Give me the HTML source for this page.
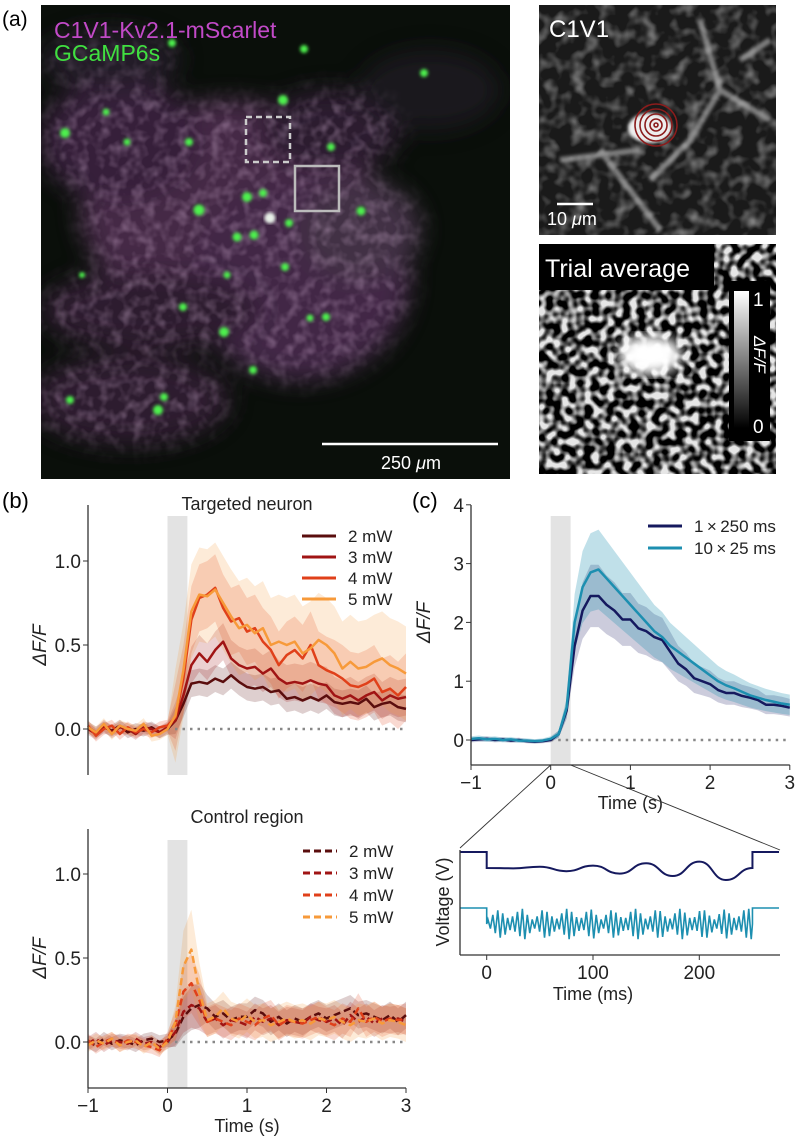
<!DOCTYPE html>
<html><head><meta charset="utf-8"><style>
body{margin:0;background:#fff;width:798px;height:1141px;overflow:hidden}
svg{display:block;font-family:"Liberation Sans",sans-serif}
</style></head><body>
<svg id="fig" width="798" height="1141" viewBox="0 0 798 1141">
<defs>
<filter id="blur6"><feGaussianBlur stdDeviation="12"/></filter>
<filter id="blur2"><feGaussianBlur stdDeviation="1.6"/></filter>
<filter id="blur5"><feGaussianBlur stdDeviation="6"/></filter>
<filter id="tex" x="0" y="0" width="100%" height="100%">
<feTurbulence type="fractalNoise" baseFrequency="0.09" numOctaves="2" seed="9" result="n"/>
<feColorMatrix in="n" type="matrix" values="0 0 0 0 0.85  0 0 0 0 0.6  0 0 0 0 0.85  2.2 0 0 0 -0.9"/>
</filter>
<filter id="texg" x="0" y="0" width="100%" height="100%">
<feTurbulence type="fractalNoise" baseFrequency="0.07" numOctaves="2" seed="5" result="n"/>
<feColorMatrix in="n" type="matrix" values="0 0 0 0 1  0 0 0 0 1  0 0 0 0 1  2.0 0 0 0 -0.9"/>
</filter>
<filter id="pix" x="0" y="0" width="100%" height="100%">
<feTurbulence type="fractalNoise" baseFrequency="0.13" numOctaves="1" seed="3"/>
<feColorMatrix type="matrix" values="0 0 0 0 1  0 0 0 0 1  0 0 0 0 1  4 0 0 0 -1.6"/>
</filter>
<mask id="tissue" maskUnits="userSpaceOnUse" x="41" y="5" width="469" height="474">
<g filter="url(#blur6)" fill="#fff">
<ellipse cx="230" cy="210" rx="150" ry="110"/><ellipse cx="300" cy="280" rx="110" ry="100"/>
<ellipse cx="120" cy="140" rx="80" ry="60"/><ellipse cx="150" cy="310" rx="110" ry="40"/>
<ellipse cx="130" cy="400" rx="100" ry="45"/><ellipse cx="330" cy="130" rx="70" ry="40"/>
<ellipse cx="360" cy="230" rx="60" ry="50"/><ellipse cx="110" cy="60" rx="70" ry="30" fill="#888"/>
</g>
</mask>
<linearGradient id="cbar" x1="0" y1="1" x2="0" y2="0"><stop offset="0" stop-color="#000"/><stop offset="1" stop-color="#fff"/></linearGradient>
<clipPath id="clipA"><rect x="41" y="5" width="469" height="474"/></clipPath>
<clipPath id="clipB"><rect x="539" y="5" width="237" height="230"/></clipPath>
<clipPath id="clipC"><rect x="539" y="244" width="237" height="230"/></clipPath>
</defs>

<text x="2" y="26" font-size="21">(a)</text>
<g clip-path="url(#clipA)">
<rect x="41" y="5" width="469" height="474" fill="#0a0f0a"/>
<g filter="url(#blur6)" opacity="0.7">
<ellipse cx="230" cy="210" rx="150" ry="110" fill="#5e3560"/>
<ellipse cx="300" cy="280" rx="110" ry="100" fill="#5a3260"/>
<ellipse cx="120" cy="140" rx="80" ry="60" fill="#4a2850"/>
<ellipse cx="150" cy="310" rx="110" ry="40" fill="#3c2240"/>
<ellipse cx="130" cy="400" rx="100" ry="45" fill="#3c2240"/>
<ellipse cx="330" cy="130" rx="70" ry="40" fill="#3a2440"/>
<ellipse cx="430" cy="90" rx="70" ry="40" fill="#241e28"/>
<ellipse cx="110" cy="60" rx="70" ry="30" fill="#2e2034"/>
<ellipse cx="360" cy="230" rx="60" ry="50" fill="#5a405e"/>
</g>
<rect x="41" y="5" width="469" height="474" filter="url(#tex)" opacity="0.3" mask="url(#tissue)"/>
<g fill="#4ef04e" filter="url(#blur2)">
<circle cx="304" cy="49" r="4"/><circle cx="424" cy="73" r="4"/><circle cx="283" cy="100" r="5"/>
<circle cx="106" cy="112" r="3.5"/><circle cx="65" cy="133" r="5"/><circle cx="189" cy="142" r="4"/>
<circle cx="127" cy="142" r="3.5"/><circle cx="331" cy="147" r="4"/><circle cx="199" cy="210" r="5.5"/>
<circle cx="247" cy="197" r="5"/><circle cx="263" cy="193" r="4"/><circle cx="237" cy="237" r="4.5"/>
<circle cx="254" cy="235" r="4.5"/><circle cx="289" cy="223" r="4"/><circle cx="361" cy="211" r="4.5"/>
<circle cx="285" cy="267" r="4"/><circle cx="183" cy="307" r="4"/><circle cx="224" cy="332" r="5"/>
<circle cx="326" cy="317" r="4"/><circle cx="310" cy="318" r="3.5"/><circle cx="253" cy="370" r="4"/>
<circle cx="164" cy="397" r="4"/><circle cx="158" cy="410" r="5"/><circle cx="70" cy="400" r="4"/>
<circle cx="172" cy="43" r="4"/><circle cx="227" cy="275" r="3.5"/><circle cx="82" cy="275" r="3"/>
</g>
<circle cx="270" cy="218" r="5.5" fill="#e8f0e8" filter="url(#blur2)"/>
</g>
<rect x="246" y="117" width="44" height="45" fill="none" stroke="#ccc" stroke-width="2.5" stroke-dasharray="6,4"/>
<rect x="295" y="166" width="44" height="45" fill="none" stroke="#bbb" stroke-width="2.5"/>
<text x="54" y="38" font-size="23" fill="#c24ac8">C1V1-Kv2.1-mScarlet</text>
<text x="54" y="61" font-size="23" fill="#40e040">GCaMP6s</text>
<line x1="322" y1="444" x2="498" y2="444" stroke="#fff" stroke-width="2.5"/>
<text x="411" y="469" font-size="18" fill="#fff" text-anchor="middle">250 <tspan font-style="italic">μ</tspan>m</text>

<g clip-path="url(#clipB)">
<rect x="539" y="5" width="237" height="230" fill="#1a1a1a"/>
<rect x="539" y="5" width="237" height="230" filter="url(#texg)" opacity="0.5"/>
<path d="M700 20 L720 90 L690 140 L650 180 M720 90 L770 120 M600 150 L660 230 M560 160 L640 150 M740 60 L770 40" stroke="#ccc" stroke-width="6" fill="none" filter="url(#blur2)" opacity="0.55"/>
<ellipse cx="650" cy="128" rx="22" ry="15" fill="#eee" filter="url(#blur2)"/>
</g>
<g fill="none" stroke="#8b1c1c" stroke-width="1.6">
<circle cx="656" cy="125" r="21"/><circle cx="656" cy="125" r="16"/><circle cx="656" cy="125" r="11"/><circle cx="656" cy="125" r="6"/><circle cx="656" cy="125" r="2"/>
</g>
<text x="549" y="37" font-size="24" fill="#fff">C1V1</text>
<line x1="557" y1="204" x2="593" y2="204" stroke="#fff" stroke-width="2.5"/>
<text x="547" y="225" font-size="18" fill="#fff">10 <tspan font-style="italic">μ</tspan>m</text>

<g clip-path="url(#clipC)">
<rect x="539" y="244" width="237" height="230" fill="#000"/>
<rect x="539" y="244" width="237" height="230" filter="url(#pix)" opacity="0.9"/>
<ellipse cx="650" cy="355" rx="32" ry="20" fill="#fff" filter="url(#blur5)"/>
</g>
<rect x="539" y="244" width="175" height="46" fill="#000"/>
<text x="545" y="277" font-size="25" fill="#fff">Trial average</text>
<rect x="729" y="281" width="41" height="160" fill="#000"/>
<rect x="734" y="291" width="15" height="137" fill="url(#cbar)"/>
<text x="753" y="306" font-size="19" fill="#fff">1</text>
<text x="753" y="433" font-size="19" fill="#fff">0</text>
<text transform="translate(754,336) rotate(90)" font-size="17" fill="#fff" font-style="italic">ΔF/F</text>

<text x="2" y="508" font-size="22">(b)</text>
<text x="412" y="508" font-size="22">(c)</text>
<g id="plots"></g>
</svg>
<script>
// ---- data ----
const tGrid = [-1,-0.9,-0.8,-0.7,-0.6,-0.5,-0.4,-0.3,-0.2,-0.1,0,0.1,0.2,0.3,0.4,0.5,0.6,0.7,0.8,0.9,1,1.1,1.2,1.3,1.4,1.5,1.6,1.7,1.8,1.9,2,2.1,2.2,2.3,2.4,2.5,2.6,2.7,2.8,2.9,3];
const powerLabels = ["2 mW","3 mW","4 mW","5 mW"];
const tgt2 = [0.01,-0.02,0.01,-0.01,0.02,-0.02,0.0,-0.01,0.01,-0.02,0.0,0.05,0.15,0.27,0.28,0.27,0.3,0.28,0.32,0.28,0.25,0.24,0.25,0.22,0.23,0.18,0.19,0.17,0.19,0.17,0.2,0.16,0.15,0.16,0.15,0.18,0.13,0.15,0.16,0.13,0.12];
const tgt3 = [0.0,-0.03,0.02,-0.02,0.01,0.0,-0.03,0.01,0.0,-0.02,0.01,0.05,0.2,0.38,0.45,0.4,0.47,0.52,0.42,0.38,0.36,0.37,0.33,0.36,0.3,0.27,0.28,0.27,0.29,0.27,0.26,0.2,0.18,0.2,0.17,0.2,0.22,0.17,0.2,0.18,0.19];
const tgt4 = [0.02,-0.04,0.0,0.02,-0.03,0.01,-0.02,0.0,-0.02,0.01,0.02,0.07,0.3,0.65,0.78,0.8,0.84,0.72,0.64,0.66,0.58,0.6,0.52,0.47,0.38,0.44,0.47,0.42,0.5,0.38,0.35,0.33,0.3,0.26,0.25,0.27,0.3,0.22,0.24,0.2,0.25];
const tgt5 = [0.01,-0.02,0.03,-0.03,0.02,0.0,-0.01,0.03,-0.04,-0.03,0.0,0.08,0.35,0.7,0.8,0.79,0.83,0.75,0.67,0.6,0.62,0.57,0.6,0.5,0.52,0.5,0.52,0.45,0.48,0.53,0.5,0.45,0.36,0.4,0.36,0.37,0.4,0.42,0.38,0.36,0.33];
const tgtErr = [0.08,0.11,0.2,0.28];
const ctl2 = [0.0,-0.02,0.02,-0.01,0.01,0.0,-0.02,0.01,0.02,0.0,0.01,0.05,0.15,0.2,0.22,0.2,0.15,0.17,0.13,0.15,0.15,0.19,0.17,0.12,0.15,0.11,0.14,0.12,0.15,0.17,0.14,0.16,0.18,0.2,0.16,0.17,0.15,0.13,0.16,0.12,0.16];
const ctl3 = [-0.01,0.02,-0.02,0.01,0.0,-0.01,0.02,-0.01,0.0,-0.03,0.0,0.06,0.18,0.22,0.2,0.12,0.14,0.1,0.13,0.12,0.1,0.15,0.12,0.14,0.1,0.13,0.12,0.11,0.15,0.13,0.12,0.14,0.1,0.16,0.12,0.15,0.11,0.14,0.13,0.14,0.12];
const ctl4 = [0.01,-0.03,0.0,0.02,-0.02,0.01,0.0,-0.02,-0.03,-0.05,0.02,0.1,0.3,0.35,0.25,0.12,0.14,0.12,0.1,0.14,0.12,0.1,0.14,0.16,0.1,0.13,0.12,0.11,0.13,0.15,0.12,0.1,0.14,0.12,0.2,0.12,0.15,0.12,0.14,0.13,0.14];
const ctl5 = [-0.02,0.01,-0.01,0.02,-0.02,0.0,0.01,-0.03,0.0,-0.04,0.0,0.12,0.45,0.55,0.3,0.13,0.15,0.2,0.14,0.12,0.16,0.12,0.13,0.1,0.12,0.14,0.12,0.13,0.11,0.14,0.13,0.15,0.12,0.1,0.13,0.12,0.14,0.11,0.13,0.12,0.1];
const ctlErr = [0.08,0.08,0.09,0.1];
const protoLabels = ["1\u2009\u00d7\u2009250 ms","10\u2009\u00d7\u200925 ms"];
const long250 = [0.0,0.01,0.02,0.0,0.01,-0.01,0.0,-0.02,-0.03,-0.02,0.0,0.1,0.5,1.6,2.2,2.45,2.45,2.3,2.2,2.05,2.05,1.9,1.85,1.75,1.7,1.5,1.3,1.2,1.05,1.0,0.95,0.85,0.8,0.8,0.75,0.72,0.68,0.6,0.6,0.58,0.55];
const pulse25 = [0.02,0.03,0.01,0.02,0.0,0.01,-0.01,-0.01,-0.02,-0.01,0.02,0.1,0.55,2.0,2.6,2.85,2.9,2.75,2.6,2.45,2.3,2.15,2.0,1.85,1.75,1.6,1.5,1.4,1.3,1.2,1.1,1.0,0.93,0.88,0.82,0.76,0.72,0.68,0.65,0.62,0.6];
const protoErrFrac = [0.2,0.22];
const yTicksB = [0, 0.5, 1.0];
const yTicksC = [0,1,2,3,4];
const xTicks = [-1,0,1,2,3];
const vTopT = [-25,0,0,25,50,75,100,125,150,175,200,225,250,250,275];
const vTopV = [1,1,0,-0.02,0.08,-0.2,0.15,-0.35,0.3,-0.5,0.4,-0.75,0,1,1];
const vCycleAmp = [0.3,0.6,0.9,0.7,0.4,0.5,0.8,1.0,0.6,0.3,0.5,0.9,0.8,0.5,0.35,0.7,1.0,0.8,0.45,0.4,0.8,0.95,0.6,0.3,0.6,0.9,0.75,0.45,0.4,0.8,1.0,0.7,0.35,0.5,0.9,0.85,0.5,0.35,0.7,1.0,0.75,0.4,0.45,0.85,0.9,0.55,0.3,0.65,0.95,0.7,0.4,0.5,0.9,1.0];
const vTicks = [0,100,200];

const NS="http://www.w3.org/2000/svg";
const root=document.getElementById('plots');
function mk(tag,attrs,parent){const e=document.createElementNS(NS,tag);for(const k in attrs)e.setAttribute(k,attrs[k]);(parent||root).appendChild(e);return e;}
function txt(s,x,y,size,anchor,parent){const e=mk('text',{x:x,y:y,'font-size':size,'text-anchor':anchor||'middle',fill:'#222'},parent);e.textContent=s;return e;}

function chart(opt){
  const g=mk('g',{});
  
  
  const X=t=>opt.x0+(t-(-1))*opt.xs, Y=v=>opt.y0-v*opt.ys;
  const band=mk('rect',{x:X(0),y:opt.yTop+11,width:X(0.25)-X(0),height:opt.yBot-opt.yTop-11,fill:'#e3e3e3'},g);
  
  
  opt.series.forEach((s,i)=>{
    let up=[],dn=[];
    s.data.forEach((v,k)=>{const e=s.err(v,tGrid[k]);up.push(X(tGrid[k])+','+Y(v+e));dn.unshift(X(tGrid[k])+','+Y(v-e));});
    const p=mk('polygon',{points:up.concat(dn).join(' '),fill:s.color,opacity:s.bandOp||0.2},g);
    
    
  });
  const z=mk('line',{x1:X(0),x2:X(3),y1:Y(0),y2:Y(0),stroke:'#888','stroke-width':2.5,'stroke-dasharray':'2.5,5'},g);
  
  
  opt.series.forEach((s,i)=>{
    const pts=s.data.map((v,k)=>X(tGrid[k])+','+Y(v)).join(' ');
    const l=mk('polyline',{points:pts,fill:'none',stroke:s.color,'stroke-width':2.5,'stroke-linejoin':'round','stroke-dasharray':opt.dash?'7,4':'none'},g);
    
    
    const ly=opt.legY+i*opt.legDy;
    const ll=mk('line',{x1:opt.legX,x2:opt.legX+34,y1:ly,y2:ly,stroke:s.color,'stroke-width':3,'stroke-dasharray':opt.dash?'7,4':'none'},g);
    
    
    const lt=txt(s.label,opt.legX+46,ly+6,17,'start',g);
    
    
  });
  const ya=mk('line',{x1:opt.x0,x2:opt.x0,y1:opt.yTop,y2:opt.yBot,stroke:'#333','stroke-width':1.3},g);
  
  
  opt.yTicks.forEach(v=>{
    mk('line',{x1:opt.x0-5,x2:opt.x0,y1:Y(v),y2:Y(v),stroke:'#333'},g);
    const t=txt(opt.yFmt(v),opt.x0-7,Y(v)+7,19,'end',g);
    
    
  });
  const yt=mk('text',{transform:`translate(${opt.yTitleX},${(Y(opt.yTicks[0])+Y(opt.yTicks[opt.yTicks.length-1]))/2}) rotate(-90)`,'font-size':19,'text-anchor':'middle','font-style':'italic',fill:'#222'},g);
  yt.textContent='ΔF/F';
  
  
  if(opt.xAxis){
    const xa=mk('line',{x1:opt.x0,x2:X(3),y1:opt.yBot,y2:opt.yBot,stroke:'#333','stroke-width':1.3},g);
    
    
    xTicks.forEach(v=>{
      mk('line',{x1:X(v),x2:X(v),y1:opt.yBot,y2:opt.yBot+5,stroke:'#333'},g);
      const t=txt(v<0?'\u2212'+(-v):String(v),X(v),opt.yBot+24,19,'middle',g);
      
      
    });
    const xt=txt('Time (s)',X(1),opt.yBot+44,18,'middle',g);
    
    
  }
  if(opt.title){const tt=txt(opt.title,X(1),opt.titleY,18,'middle',g);}
  return {X,Y};
}
const reds=['#5a0d0d','#a01414','#e0401a','#f79a3a'];
const fmt1=v=>v.toFixed(1);
chart({name:'targeted-neuron-chart',x0:88,xs:79.5,y0:729,ys:168,yTop:505,yBot:775,yTicks:yTicksB,yFmt:fmt1,yTitleX:46,
  title:'Targeted neuron',titleY:510,legX:302,legY:536,legDy:21,xAxis:false,
  series:[tgt2,tgt3,tgt4,tgt5].map((d,i)=>({data:d,label:powerLabels[i],color:reds[i],err:(v,t)=>t>0.05?tgtErr[i]:0.035}))});
chart({name:'control-region-chart',x0:88,xs:79.5,y0:1042,ys:168,yTop:829,yBot:1088,yTicks:yTicksB,yFmt:fmt1,yTitleX:46,
  title:'Control region',titleY:823,legX:303,legY:851,legDy:22,xAxis:true,dash:true,
  series:[ctl2,ctl3,ctl4,ctl5].map((d,i)=>({data:d,label:powerLabels[i],color:reds[i],err:(v,t)=>t>0.15&&t<0.45?ctlErr[i]+v*0.25:(t>0.05?ctlErr[i]:0.04)}))});
const cc=chart({name:'protocol-comparison-chart',x0:471,xs:79.7,y0:740,ys:58.8,yTop:505,yBot:765,yTicks:yTicksC,yFmt:v=>String(v),yTitleX:430,
  legX:648,legY:526,legDy:22,xAxis:true,
  series:[long250,pulse25].map((d,i)=>({data:d,label:protoLabels[i],color:['#15195e','#1d8fb0'][i],bandOp:[0.22,0.28][i],err:(v,t)=>0.04+v*protoErrFrac[i]}))});
const zl=mk('polyline',{points:`${cc.X(0)},765 460,848`,fill:'none',stroke:'#333','stroke-width':0.9});


const zr=mk('polyline',{points:`${cc.X(0.25)},765 780,850`,fill:'none',stroke:'#333','stroke-width':0.9});



(function(){
  const g=mk('g',{});
  
  
  const X=t=>486.7+t*1.063;
  const topY=v=>868-v*16, botY=v=>924-v*16;
  let d='M'+X(vTopT[0])+' '+topY(vTopV[0]);
  for(let i=1;i<vTopT.length;i++){
    const x0=X(vTopT[i-1]),x1=X(vTopT[i]),y0=topY(vTopV[i-1]),y1=topY(vTopV[i]);
    if(x1-x0<1){d+=` L${x1} ${y1}`;continue;}
    const mx=(x0+x1)/2;d+=` C${mx} ${y0} ${mx} ${y1} ${x1} ${y1}`;
  }
  const tp=mk('path',{d:d,fill:'none',stroke:'#15195e','stroke-width':2},g);
  
  
  const per=250/vCycleAmp.length;
  let pts=[[X(-25),botY(1)],[X(0),botY(1)],[X(0),botY(0)]];
  vCycleAmp.forEach((a,k)=>{const t=k*per;pts.push([X(t+per*0.25),botY(a*0.95)]);pts.push([X(t+per*0.75),botY(-a*0.95)]);});
  pts.push([X(250),botY(0)],[X(250),botY(1)],[X(275),botY(1)]);
  const bp=mk('polyline',{points:pts.map(p=>p.join(',')).join(' '),fill:'none',stroke:'#1d8fb0','stroke-width':1.6},g);
  
  
  const ya=mk('line',{x1:460,x2:460,y1:850,y2:955,stroke:'#333','stroke-width':1.3},g);
  
  
  const xa=mk('line',{x1:460,x2:780,y1:955,y2:955,stroke:'#333','stroke-width':1.3},g);
  
  
  vTicks.forEach(v=>{mk('line',{x1:X(v),x2:X(v),y1:955,y2:960,stroke:'#333'},g);
    const t=txt(String(v),X(v),979,19,'middle',g);
    
    });
  const xt=txt('Time (ms)',X(100),1000,18,'middle',g);
  
  
  const yt=mk('text',{transform:'translate(449,902) rotate(-90)','font-size':18,'text-anchor':'middle',fill:'#222'},g);
  yt.textContent='Voltage (V)';
  
  
})();
</script>
</body></html>
